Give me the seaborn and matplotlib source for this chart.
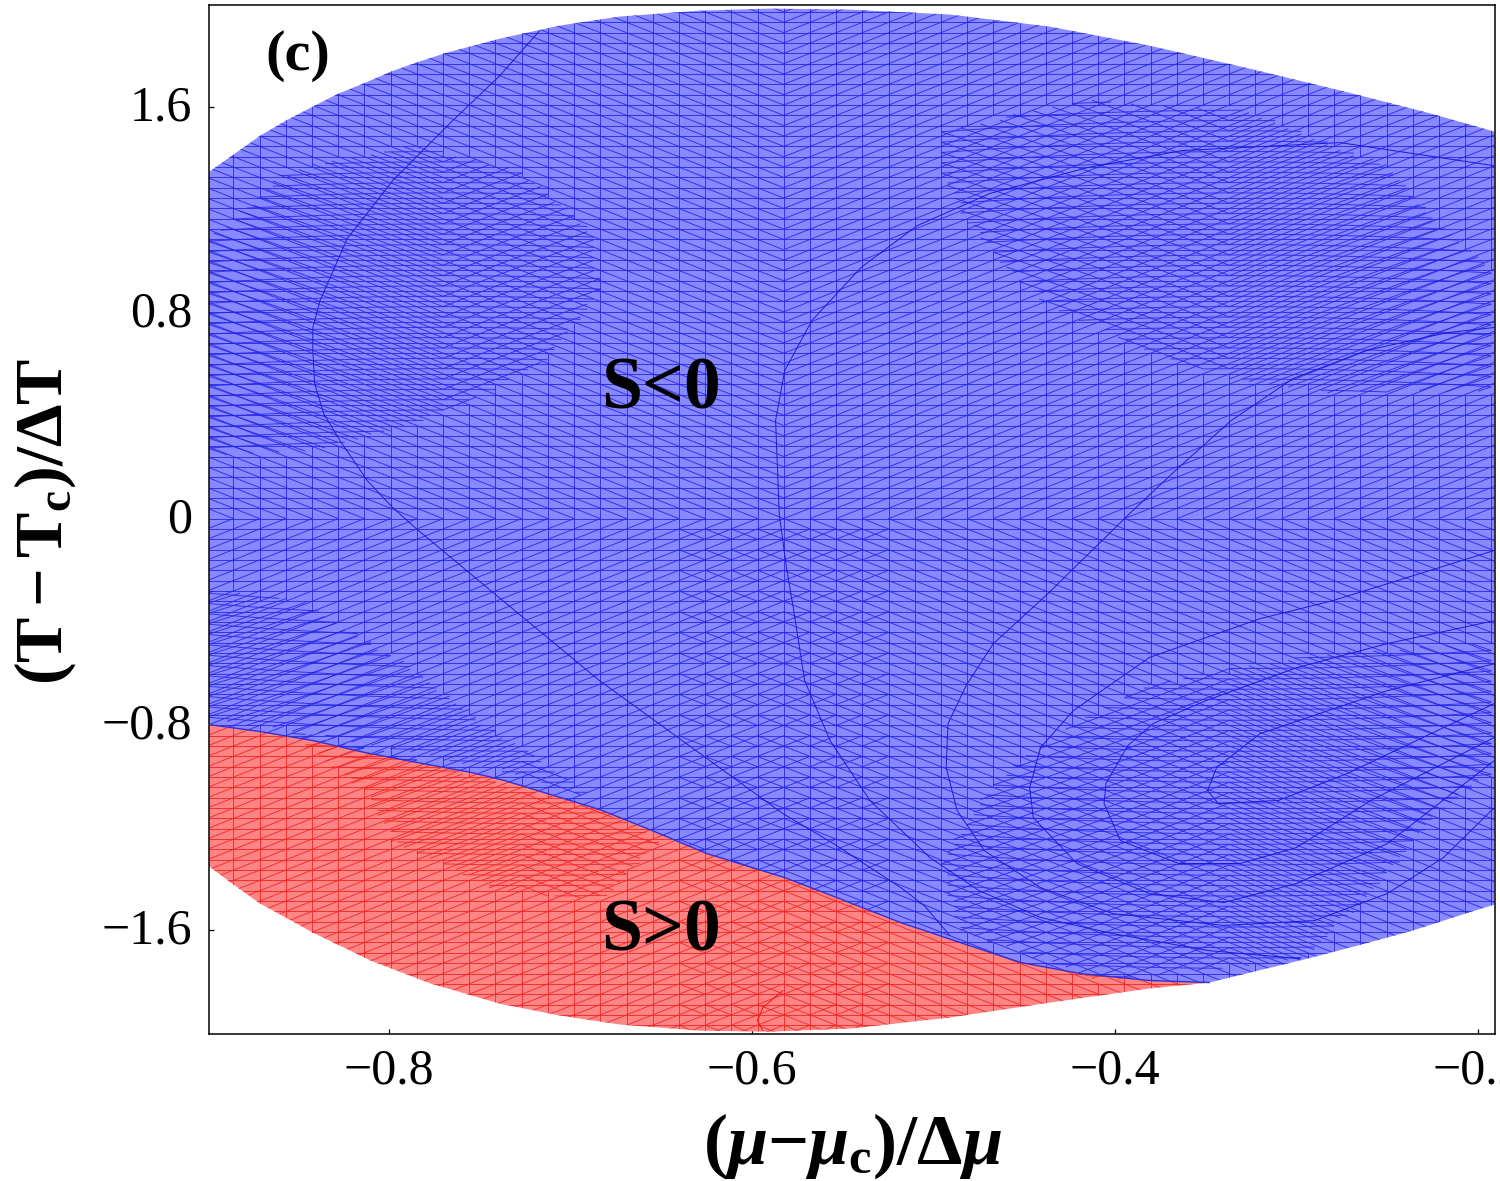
import numpy as np
import pandas as pd
import seaborn as sns
import matplotlib.pyplot as plt
from matplotlib.collections import LineCollection
from matplotlib.patches import PathPatch
from matplotlib.path import Path
from matplotlib.transforms import ScaledTranslation

sns.set_theme(style='ticks')
plt.rcParams['font.family'] = ['Liberation Serif', 'DejaVu Serif']
plt.rcParams['mathtext.fontset'] = 'custom'
plt.rcParams['mathtext.rm'] = 'Liberation Serif:bold'
plt.rcParams['mathtext.bf'] = 'Liberation Serif:bold'
plt.rcParams['mathtext.it'] = 'Liberation Serif:italic:bold'

# region edges
top_x = [-0.899, -0.885, -0.871, -0.857, -0.842, -0.828, -0.813, -0.799, -0.785, -0.768, -0.739, -0.706,
         -0.673, -0.629, -0.590, -0.546, -0.491, -0.436, -0.381, -0.326, -0.271, -0.226, -0.191]
top_y = [1.349, 1.419, 1.489, 1.547, 1.602, 1.652, 1.695, 1.738, 1.773, 1.812, 1.866, 1.917,
         1.952, 1.975, 1.983, 1.979, 1.960, 1.913, 1.839, 1.750, 1.656, 1.575, 1.505]
bottom_red_x = [-0.899, -0.885, -0.871, -0.856, -0.842, -0.834, -0.810, -0.777, -0.739, -0.706, -0.673,
                -0.629, -0.590, -0.546, -0.491, -0.436, -0.381, -0.348]
bottom_red_y = [-1.353, -1.427, -1.497, -1.555, -1.610, -1.637, -1.719, -1.808, -1.886, -1.932, -1.967,
                -1.991, -1.995, -1.983, -1.940, -1.882, -1.827, -1.804]
bottom_blue_x = [-0.348, -0.294, -0.264, -0.236, -0.207, -0.191]
bottom_blue_y = [-1.804, -1.711, -1.656, -1.602, -1.536, -1.501]
border_x = [-0.899, -0.871, -0.842, -0.813, -0.784, -0.754, -0.736, -0.684, -0.655, -0.625, -0.582, -0.552,
            -0.518, -0.485, -0.452, -0.419, -0.381, -0.348]
border_y = [-0.801, -0.828, -0.863, -0.910, -0.949, -0.988, -1.019, -1.131, -1.213, -1.302, -1.396, -1.477,
            -1.571, -1.649, -1.726, -1.769, -1.796, -1.804]

# thin contour curves
c1_x = [-0.717, -0.739, -0.766, -0.798, -0.823, -0.838, -0.842, -0.842, -0.841, -0.836, -0.827, -0.812,
        -0.798, -0.785, -0.744, -0.684, -0.608, -0.583, -0.555, -0.518, -0.505, -0.491]
c1_y = [1.897, 1.722, 1.540, 1.314, 1.089, 0.848, 0.743, 0.653, 0.525, 0.408, 0.303, 0.148,
        0.043, -0.039, -0.280, -0.630, -1.019, -1.147, -1.264, -1.435, -1.505, -1.621]
c2_x = [-0.191, -0.276, -0.363, -0.415, -0.469, -0.509, -0.540, -0.567, -0.582, -0.587, -0.585, -0.581,
        -0.577, -0.571, -0.557, -0.535, -0.502, -0.475, -0.441, -0.401, -0.348, -0.298]
c2_y = [1.372, 1.462, 1.431, 1.365, 1.264, 1.139, 0.976, 0.770, 0.575, 0.381, 0.019, -0.191,
        -0.358, -0.630, -0.863, -1.096, -1.318, -1.446, -1.551, -1.614, -1.680, -1.711]
c3_x = [-0.191, -0.217, -0.262, -0.302, -0.336, -0.365, -0.392, -0.437, -0.467, -0.482, -0.492, -0.493,
        -0.487, -0.472, -0.441, -0.401, -0.340, -0.290, -0.250, -0.219, -0.191]
c3_y = [0.743, 0.723, 0.653, 0.544, 0.381, 0.198, 0.019, -0.292, -0.486, -0.649, -0.797, -0.968,
        -1.135, -1.291, -1.435, -1.536, -1.582, -1.563, -1.458, -1.318, -1.124]
c4_x = [-0.191, -0.280, -0.320, -0.350, -0.381, -0.423, -0.441, -0.447, -0.445, -0.421, -0.381, -0.340,
        -0.300, -0.250, -0.191]
c4_y = [-0.124, -0.319, -0.389, -0.463, -0.540, -0.747, -0.890, -1.046, -1.163, -1.341, -1.458, -1.493,
        -1.419, -1.264, -0.941]
c5_x = [-0.191, -0.250, -0.300, -0.350, -0.379, -0.393, -0.405, -0.406, -0.397, -0.365, -0.331, -0.300,
        -0.259, -0.191]
c5_y = [-0.397, -0.486, -0.580, -0.708, -0.797, -0.883, -1.030, -1.108, -1.252, -1.341, -1.341, -1.279,
        -1.096, -0.851]
c6_x = [-0.191, -0.250, -0.320, -0.344, -0.349, -0.343, -0.310, -0.272, -0.191]
c6_y = [-0.564, -0.669, -0.836, -0.968, -1.058, -1.108, -1.096, -0.991, -0.719]
c_red_x = [-0.583, -0.594, -0.597, -0.594]
c_red_y = [-1.835, -1.901, -1.952, -1.991]

# patches of the mesh where the lines are dense and the verticals stop
zone_left = [(-0.899, 1.081), (-0.856, 1.353), (-0.785, 1.450), (-0.728, 1.353), (-0.689, 1.120), (-0.684, 0.886),
             (-0.698, 0.758), (-0.712, 0.626), (-0.741, 0.505), (-0.785, 0.373), (-0.813, 0.323), (-0.842, 0.264),
             (-0.899, 0.245)]
zone_band = [(-0.899, -0.280), (-0.849, -0.319), (-0.794, -0.552), (-0.750, -0.785), (-0.684, -1.096),
             (-0.739, -0.980), (-0.849, -0.824), (-0.899, -0.785)]
zone_red = [(-0.856, -0.824), (-0.794, -0.921), (-0.684, -1.135), (-0.651, -1.252), (-0.684, -1.485),
            (-0.739, -1.446), (-0.798, -1.252), (-0.813, -1.058)]
zone_right = [(-0.495, 1.322), (-0.480, 1.151), (-0.466, 1.030), (-0.451, 0.914), (-0.437, 0.828), (-0.408, 0.739),
              (-0.380, 0.645), (-0.336, 0.548), (-0.278, 0.490), (-0.191, 0.498), (-0.191, 0.964), (-0.220, 1.128),
              (-0.249, 1.365), (-0.326, 1.586), (-0.416, 1.625), (-0.495, 1.509)]
zone_low = [(-0.496, -1.330), (-0.467, -1.030), (-0.437, -0.863), (-0.408, -0.739), (-0.380, -0.649), (-0.350, -0.599),
            (-0.292, -0.533), (-0.219, -0.494), (-0.191, -0.474), (-0.191, -0.980), (-0.219, -1.124), (-0.234, -1.244),
            (-0.248, -1.369), (-0.263, -1.485), (-0.298, -1.719), (-0.408, -1.796), (-0.485, -1.602)]
# zone outline, centre of its arcs, bend of its arcs (negative arches down at the sides)
zones = [(Path(zone_left), -0.77, -1.6), (Path(zone_band), -0.72, 1.6), (Path(zone_red), -0.72, 1.6),
         (Path(zone_right), -0.33, -1.6), (Path(zone_low), -0.33, 1.6)]

x_ticks = [-0.8, -0.6, -0.4, -0.2]
x_tick_labels = ['\u22120.8', '\u22120.6', '\u22120.4', '\u22120.2']
y_ticks = [1.6, 0.8, 0, -0.8, -1.6]
y_tick_labels = ['1.6', '0.8', '0', '\u22120.8', '\u22121.6']

BLUE_FILL = '#8888ff'
RED_FILL = '#ff8484'
BLUE_LINE = '#2424e6'
RED_LINE = '#ee2424'

# mesh spacing
x_mid = -0.5825
dx = 0.01444
dy = 0.0402
PIECES = 4


def in_zone(x, y):
    return any(z[0].contains_point((x, y)) for z in zones)


def build_mesh():
    segs = []
    cols = np.arange(-26, 29)
    rows = np.arange(-52, 52)
    for i in cols:
        for j in rows:
            x0 = x_mid + i * dx
            x1 = x0 + dx
            y0 = j * dy
            xc = (x0 + x1) / 2
            yc = y0 + dy / 2
            if not in_zone(x0, yc):
                segs.append([(x0, y0), (x0, y0 + dy)])
            segs.append([(x0, y0), (x1, y0)])
            # diagonals lean away from the centre lines
            up = (xc > x_mid) == (yc > 0)
            if up:
                segs.append([(x0, y0), (x1, y0 + dy)])
            else:
                segs.append([(x0, y0 + dy), (x1, y0)])
            # second sheet shows through near the middle
            if abs(xc - x_mid) < 0.06 and yc < 0 and j % 2 == 0:
                if xc > x_mid:
                    segs.append([(x0, y0), (x1, y0 + dy)])
                else:
                    segs.append([(x0, y0 + dy), (x1, y0)])
    # second sheet in the dense patches, bent so that it beats against the first
    for path, x_c, bend in zones:
        for i in cols:
            for j in rows:
                x0 = x_mid + i * dx
                xc = x0 + dx / 2
                up = (xc > x_c) == (j * dy > 0)
                for p in range(PIECES):
                    xa = x0 + p * dx / PIECES
                    xb = xa + dx / PIECES
                    ya = j * dy + dy / 2 + bend * (xa - x_c) ** 2
                    yb = j * dy + dy / 2 + bend * (xb - x_c) ** 2
                    if path.contains_point(((xa + xb) / 2, (ya + yb) / 2)):
                        segs.append([(xa, ya), (xb, yb)])
                    fa = p / PIECES
                    fb = (p + 1) / PIECES
                    if not up:
                        fa, fb = 1 - fa, 1 - fb
                    da = ya + dy * fa
                    db = yb + dy * fb
                    if path.contains_point(((xa + xb) / 2, (da + db) / 2)):
                        segs.append([(xa, da), (xb, db)])
    return segs


fig = plt.figure(figsize=(15, 11.81), dpi=100)
ax = fig.add_axes([209 / 1500, 1 - 1034 / 1181, (1495 - 209) / 1500, (1034 - 5) / 1181])

blue_poly = list(zip(top_x, top_y)) + list(zip(bottom_blue_x[::-1], bottom_blue_y[::-1])) + list(zip(border_x[::-1], border_y[::-1]))
red_poly = list(zip(border_x, border_y)) + list(zip(bottom_red_x[::-1], bottom_red_y[::-1]))

ax.fill(*zip(*blue_poly), color=BLUE_FILL, lw=0, zorder=1)
ax.fill(*zip(*red_poly), color=RED_FILL, lw=0, zorder=1)

mesh = build_mesh()
for poly, col in ((blue_poly, BLUE_LINE), (red_poly, RED_LINE)):
    clip = PathPatch(Path(poly + [poly[0]]), transform=ax.transData, fc='none', ec='none')
    ax.add_patch(clip)
    lc = LineCollection(mesh, colors=col, linewidths=0.7, alpha=0.85, zorder=2)
    ax.add_collection(lc)
    lc.set_clip_path(clip)

# contour curves on top of the mesh
curves = [(c1_x, c1_y), (c2_x, c2_y), (c3_x, c3_y), (c4_x, c4_y), (c5_x, c5_y), (c6_x, c6_y)]
for k, (cx, cy) in enumerate(curves):
    df = pd.DataFrame({'mu': cx, 'T': cy})
    sns.lineplot(data=df, x='mu', y='T', sort=False, estimator=None, color='#1a1ad8', lw=0.7, ax=ax, zorder=3)
df_red = pd.DataFrame({'mu': c_red_x, 'T': c_red_y})
sns.lineplot(data=df_red, x='mu', y='T', sort=False, estimator=None, color='#e81414', lw=0.7, ax=ax, zorder=3)
df_border = pd.DataFrame({'mu': border_x, 'T': border_y})
sns.lineplot(data=df_border, x='mu', y='T', sort=False, estimator=None, color='#3030d8', lw=1.0, ax=ax, zorder=3)

ax.set_xlim(-0.8992, -0.1906)
ax.set_ylim(-2.004, 1.997)
ax.set_xticks(x_ticks)
ax.set_xticklabels(x_tick_labels)
ax.set_yticks(y_ticks)
ax.set_yticklabels(y_tick_labels)
ax.tick_params(axis='both', direction='in', length=3.6, width=0.9, color='black', labelsize=36, labelcolor='black')
ax.tick_params(axis='x', pad=10)
ax.tick_params(axis='y', pad=12)
# nudge the y labels up a little, they sit low otherwise
for lbl in ax.get_yticklabels():
    lbl.set_transform(lbl.get_transform() + ScaledTranslation(0, 0.04, fig.dpi_scale_trans))
for s in ax.spines.values():
    s.set_visible(True)
    s.set_linewidth(1.1)
    s.set_color('black')

ax.set_xlabel(r'$\mathrm{(}\mathit{\mu}\mathrm{-}\mathit{\mu}_{\mathrm{c}}\mathrm{)/\Delta}\mathit{\mu}$', fontsize=52, color='black')
ax.xaxis.set_label_coords((852 - 209) / 1286, -(1146 - 1034) / 1029, transform=ax.transAxes)
ax.xaxis.label.set_va('center')
ax.set_ylabel(r'$\mathrm{(T-T_c)/\Delta T}$', fontsize=49, color='black')
ax.yaxis.set_label_coords(-(209 - 45) / 1286, (1034 - 522) / 1029, transform=ax.transAxes)
ax.yaxis.label.set_va('center')

ax.text(-0.650, 0.50, 'S<0', fontsize=53, fontweight='bold', ha='center', va='center', color='black', zorder=5)
ax.text(-0.650, -1.61, 'S>0', fontsize=53, fontweight='bold', ha='center', va='center', color='black', zorder=5)
ax.text(-0.850, 1.80, '(c)', fontsize=42, fontweight='bold', ha='center', va='center', color='black', zorder=5)

fig.savefig('out.png', dpi=100)
